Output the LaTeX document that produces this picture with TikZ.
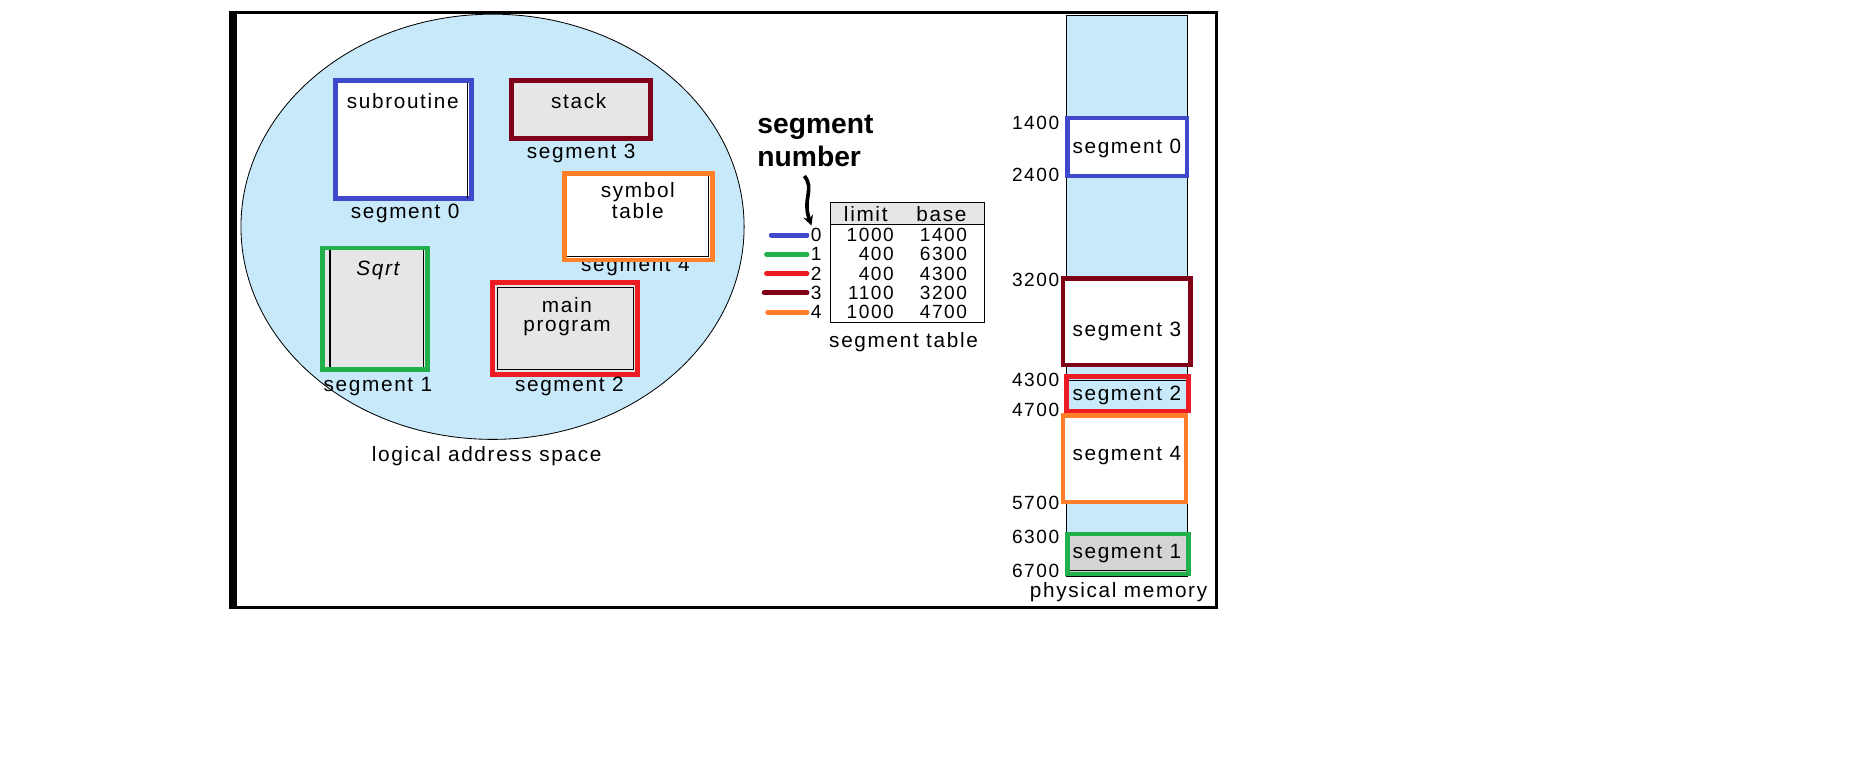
\documentclass[tikz,border=0pt]{standalone}
\usepackage{fontspec}
\setmainfont[LetterSpace=8]{Liberation Sans}
\newfontfamily\headfont{Liberation Sans}
\usetikzlibrary{arrows.meta,calc}

\definecolor{lblue}{RGB}{200,233,249}
\definecolor{segblue}{RGB}{64,72,204}
\definecolor{seggreen}{RGB}{34,176,76}
\definecolor{segred}{RGB}{236,28,36}
\definecolor{segdark}{RGB}{128,0,24}
\definecolor{segorange}{RGB}{255,128,40}
\definecolor{boxgray}{RGB}{230,230,232}
\definecolor{memgray}{RGB}{212,212,214}

\tikzset{
  segbox/.style={line width=2.8pt},
  lbl/.style={font=\fontsize{12.5}{11.5}\selectfont, inner sep=0pt},
  num/.style={font=\fontsize{11.5}{14}\selectfont, inner sep=0pt},
  rowline/.style={line width=3pt, line cap=round},
}

\begin{document}
\begin{tikzpicture}[x=0.025cm,y=-0.025cm]
  \useasboundingbox (0,0) rectangle (1568,650);
  % outer frame
  \draw[line width=1.8pt] (197,10.5) rectangle (1030,514);
  \draw[line width=5pt] (197,9) -- (197,516);

  % logical address space
  \draw[fill=lblue, line width=0.5pt] (417,192) ellipse [x radius=213, y radius=180];
  \draw[segbox, draw=segblue, fill=white] (284,68) rectangle (399,168);
  \draw[thin] (396,70) -- (396,168);
  \node[lbl] (subr) at (341,86) {subroutine};
  \node[lbl] (lseg0) at (343,181) {segment 0};
  \draw[segbox, draw=segdark, fill=boxgray] (433,68) rectangle (551,117);
  \node[lbl] (stack) at (490,86) {stack};
  \node[lbl] (lseg3) at (492,130) {segment 3};
  \node[lbl] (lseg4) at (538,226) {segment 4};
  \draw[segbox, draw=segorange, fill=white] (478,147) rectangle (603,220);
  \draw[thin] (480,217) -- (600,217) -- (600,149);
  \node[lbl, align=center] (symtab) at (540,170) {symbol\\table};
  \draw[segbox, draw=seggreen, fill=boxgray] (273,210) rectangle (362,313);
  \draw[line width=1.2pt] (279,212) -- (279,311);
  \draw[thin] (358,212) -- (358,311);
  \node[lbl, font=\fontsize{12.5}{15}\selectfont\itshape] (sqrt) at (320,229) {Sqrt};
  \node[lbl] (lseg1) at (320,327) {segment 1};
  \draw[segbox, draw=segred, fill=boxgray] (417,239) rectangle (540,317);
  \draw[thin] (421,243) rectangle (536,313);
  \node[lbl, align=center] (mainprog) at (480,268) {main\\program};
  \node[lbl] (lseg2) at (482,327) {segment 2};
  \node[lbl] (las) at (412,386) {logical address space};

  % segment table
  \node[font=\headfont\bfseries\fontsize{17}{20}\selectfont, align=left, anchor=north west, inner sep=0pt] (segnum) at (641,97) {segment\\number};
  \draw[fill=boxgray, thin] (703,171) rectangle (833,190);
  \draw[thin] (703,171) rectangle (833,273);
  \node[lbl] (limit) at (733,181) {limit};
  \node[lbl] (base) at (797,181) {base};
  \foreach \i/\l/\b/\c/\x in {0/1000/1400/segblue/653, 1/400/6300/seggreen/649,
      2/400/4300/segred/649, 3/1100/3200/segdark/647, 4/1000/4700/segorange/650} {
    \node[num] (n\i) at (691,199+16.3*\i) {\i};
    \node[num, anchor=east] (lim\i) at (757,199+16.3*\i) {\l};
    \node[num, anchor=east] (base\i) at (819,199+16.3*\i) {\b};
    \coordinate (t\i) at (\x,199+16.3*\i);
    \draw[rowline, \c] (t\i) -- ($(n\i.west)+(-3,0)$);
  }
  \coordinate (arrtop) at (681,149);
  \draw[line width=2.2pt, -{Stealth[length=6pt,width=6pt]}] (arrtop)
     .. controls (690,160) and (679,168) .. ($(n0.north)+(-4,-2)$);
  \node[lbl] (segtab) at (765,290) {segment table};

  % physical memory
  \draw[fill=lblue, line width=0.6pt] (903,13) rectangle (1005,488);
  \draw[segbox, draw=segblue, fill=white] (904,100) rectangle (1005,149);
  \node[lbl] (m0) at (954,126) {segment 0};
  \draw[segbox, draw=segdark, fill=white] (900,236) rectangle (1008,309);
  \node[lbl] (m3) at (954,281) {segment 3};
  \draw[segbox, draw=segred, fill=lblue] (903,319) rectangle (1006,348);
  \draw[thin] (905,322) -- (1004,322);
  \node[lbl] (m2) at (954,335) {segment 2};
  \draw[segbox, draw=segorange, fill=white] (900,352) rectangle (1004,425);
  \node[lbl] (m4) at (954,386) {segment 4};
  \draw[segbox, draw=seggreen, fill=memgray] (904,452) rectangle (1006,486);
  \draw[thin] (906,483) -- (1004,483);
  \node[lbl] (m1) at (954,469) {segment 1};
  \foreach \a/\y in {1400/104, 2400/148, 3200/237, 4300/322, 4700/347, 5700/426, 6300/455, 6700/483} {
    \node[num, anchor=east] (addr\a) at (897,\y) {\a};
  }
  \node[lbl] (pm) at (947,501) {physical memory};
\end{tikzpicture}
\end{document}
